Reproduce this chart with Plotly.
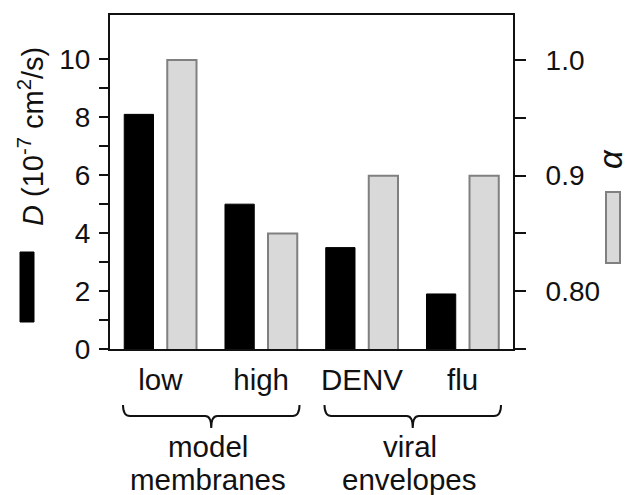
import plotly.graph_objects as go

# ---- data ----
categories = ["low", "high", "DENV", "flu"]
diffusion_D = [8.1, 5.0, 3.5, 1.9]          # 10^-7 cm^2/s (left axis)
alpha_vals = [1.0, 0.85, 0.9, 0.9]          # anomalous exponent (right axis)
left_ticks = [0, 2, 4, 6, 8, 10]
left_minor = [1, 3, 5, 7, 9]
right_ticks = [0.80, 0.90, 1.00]
right_labels = ["0.80", "0.9", "1.0"]
right_minor = [0.75, 0.85, 0.95]
groups = [(["model", "membranes"], 0, 1), (["viral", "envelopes"], 2, 3)]

# ---- layout geometry (page pixels; page body has an 8px margin) ----
OFF = 8
WIDTH, HEIGHT = 632 - OFF, 495 - OFF
L, R, T, B = 110, 513, 15, 349
PW, PH = R - L, B - T
FONT = "Liberation Sans, Arial, Helvetica, sans-serif"
INK = "#111111"
FS = 28
FSX = 29.5


def px(x, y):
    return (x - L) / PW, (B - y) / PH


fig = go.Figure()
fig.add_trace(go.Bar(
    x=categories, y=diffusion_D, yaxis="y", offsetgroup="D",
    marker=dict(color="#000000", line=dict(color="#000000", width=1)),
    showlegend=False,
))
fig.add_trace(go.Bar(
    x=categories, y=alpha_vals, yaxis="y2", offsetgroup="a",
    marker=dict(color="#d9d9d9", line=dict(color="#808080", width=2)),
    showlegend=False,
))

shapes = []
annotations = []


def P(x, y):
    a, b = px(x, y)
    return f"{a:.5f},{b:.5f}"


# braces under category pairs
ncat = len(categories)
catw = PW / ncat
for lines, i0, i1 in groups:
    x1 = L + catw * i0 + 13
    x2 = L + catw * (i1 + 1) - 12
    xc = (x1 + x2) / 2
    ytop, yline, ytip = 405, 416, 428
    path = (f"M {P(x1, ytop)} Q {P(x1, yline)} {P(x1 + 7, yline)} "
            f"L {P(xc - 6, yline)} Q {P(xc, yline)} {P(xc, ytip)} "
            f"Q {P(xc, yline)} {P(xc + 6, yline)} "
            f"L {P(x2 - 7, yline)} Q {P(x2, yline)} {P(x2, ytop)}")
    shapes.append(dict(type="path", xref="paper", yref="paper", path=path,
                       line=dict(color=INK, width=2)))
    for k, txt in enumerate(lines):
        ax, ay = px(xc - 3, 446 + 33 * k)
        annotations.append(dict(xref="paper", yref="paper", x=ax, y=ay, text=txt,
                                showarrow=False, xanchor="center", yanchor="middle",
                                font=dict(family=FONT, size=FSX, color=INK)))

# left axis title + black key
tx, ty = px(31, 137)
annotations.append(dict(xref="paper", yref="paper", x=tx, y=ty,
                        text="<i>D</i> (10<sup>-7</sup> cm<sup>2</sup>/s)",
                        textangle=-90, showarrow=False, xanchor="center",
                        yanchor="middle", font=dict(family=FONT, size=29, color=INK)))
a0, b0 = px(20, 322)
a1, b1 = px(34, 252)
shapes.append(dict(type="rect", xref="paper", yref="paper", x0=a0, y0=b0, x1=a1, y1=b1,
                   fillcolor="#000000", line=dict(color="#000000", width=1)))

# right axis title + gray key
tx, ty = px(611, 159)
annotations.append(dict(xref="paper", yref="paper", x=tx, y=ty, text="<i>α</i>",
                        textangle=-90, showarrow=False, xanchor="center",
                        yanchor="middle", font=dict(family=FONT, size=33, color=INK)))
a0, b0 = px(606, 263)
a1, b1 = px(620, 192)
shapes.append(dict(type="rect", xref="paper", yref="paper", x0=a0, y0=b0, x1=a1, y1=b1,
                   fillcolor="#d9d9d9", line=dict(color="#808080", width=2)))

fig.update_layout(
    width=WIDTH, height=HEIGHT,
    margin=dict(l=L - OFF, r=WIDTH - (R - OFF), t=T - OFF, b=HEIGHT - (B - OFF),
                autoexpand=False),
    paper_bgcolor="white", plot_bgcolor="white",
    barmode="group", bargap=0.146, bargroupgap=0.32,
    font=dict(family=FONT, size=FS, color=INK),
    xaxis=dict(type="category", showline=True, linecolor=INK, linewidth=2,
               mirror=True, ticks="", showgrid=False, zeroline=False,
               tickfont=dict(size=FSX), ticklabelstandoff=4),
    yaxis=dict(range=[0, 11.53], tickvals=left_ticks,
               ticktext=[str(v) for v in left_ticks],
               ticks="outside", ticklen=9, tickwidth=1.5, tickcolor=INK,
               minor=dict(tickvals=left_minor, ticks="outside", ticklen=9,
                          tickwidth=1.5, tickcolor=INK, showgrid=False),
               showline=True, linecolor=INK, linewidth=2, showgrid=False,
               zeroline=False, tickfont=dict(size=FS), ticklabelstandoff=3),
    yaxis2=dict(range=[0.75, 1.039], overlaying="y", side="right",
                tickvals=right_ticks, ticktext=right_labels,
                ticks="outside", ticklen=11, tickwidth=1.5, tickcolor=INK,
                minor=dict(tickvals=right_minor, ticks="outside", ticklen=11,
                           tickwidth=1.5, tickcolor=INK, showgrid=False),
                showline=True, linecolor=INK, linewidth=2, showgrid=False,
                zeroline=False, tickfont=dict(size=FS), ticklabelstandoff=14),
    shapes=shapes, annotations=annotations,
)

fig.write_html("out.html")
